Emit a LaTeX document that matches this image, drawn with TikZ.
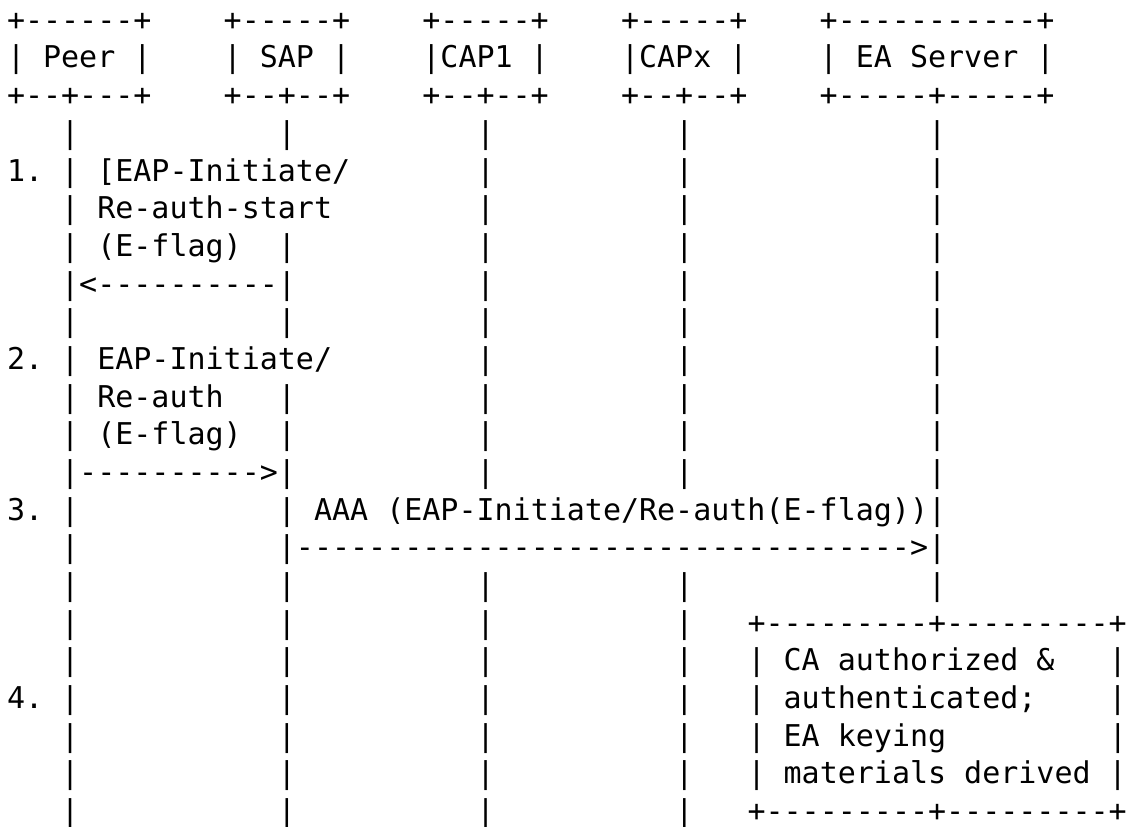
\documentclass[tikz,border=0pt]{standalone}
\usepackage{fontspec}
\setmonofont{DejaVu Sans Mono}
\newcommand\sk[1]{\kern#1\fontcharwd\font`M\relax}
\tikzset{
  asciirow/.style={anchor=base west, inner sep=0pt, outer sep=0pt,
    font=\ttfamily\fontsize{15}{18}\selectfont, text=black}
}
\begin{document}
\begin{tikzpicture}[x=1pt,y=1pt]
\useasboundingbox (0,0) rectangle (564,-413);
\def\rx{3.5}
\newcommand\rowy[1]{-15.15-18.84*#1}
% lifeline-only row body
\newcommand\lifes{\sk{3}|\sk{11}|\sk{10}|\sk{10}|\sk{13}|}
\node[asciirow] (r0)  at (\rx,{\rowy{0}})  {+------+\sk{4}+-----+\sk{4}+-----+\sk{4}+-----+\sk{4}+-----------+};
\node[asciirow] (r1)  at (\rx,{\rowy{1}})  {|\sk{1}Peer\sk{1}|\sk{4}|\sk{1}SAP\sk{1}|\sk{4}|CAP1\sk{1}|\sk{4}|CAPx\sk{1}|\sk{4}|\sk{1}EA\sk{1}Server\sk{1}|};
\node[asciirow] (r2)  at (\rx,{\rowy{2}})  {+--+---+\sk{4}+--+--+\sk{4}+--+--+\sk{4}+--+--+\sk{4}+-----+-----+};
\node[asciirow] (r3)  at (\rx,{\rowy{3}})  {\lifes};
\node[asciirow] (r4)  at (\rx,{\rowy{4}})  {1.\sk{1}|\sk{1}[EAP-Initiate/\sk{7}|\sk{10}|\sk{13}|};
\node[asciirow] (r5)  at (\rx,{\rowy{5}})  {\sk{3}|\sk{1}Re-auth-start\sk{8}|\sk{10}|\sk{13}|};
\node[asciirow] (r6)  at (\rx,{\rowy{6}})  {\sk{3}|\sk{1}(E-flag)\sk{2}|\sk{10}|\sk{10}|\sk{13}|};
\node[asciirow] (r7)  at (\rx,{\rowy{7}})  {\sk{3}|<----------|\sk{10}|\sk{10}|\sk{13}|};
\node[asciirow] (r8)  at (\rx,{\rowy{8}})  {\lifes};
\node[asciirow] (r9)  at (\rx,{\rowy{9}})  {2.\sk{1}|\sk{1}EAP-Initiate/\sk{8}|\sk{10}|\sk{13}|};
\node[asciirow] (r10) at (\rx,{\rowy{10}}) {\sk{3}|\sk{1}Re-auth\sk{3}|\sk{10}|\sk{10}|\sk{13}|};
\node[asciirow] (r11) at (\rx,{\rowy{11}}) {\sk{3}|\sk{1}(E-flag)\sk{2}|\sk{10}|\sk{10}|\sk{13}|};
\node[asciirow] (r12) at (\rx,{\rowy{12}}) {\sk{3}|---------->|\sk{10}|\sk{10}|\sk{13}|};
\node[asciirow] (r13) at (\rx,{\rowy{13}}) {3.\sk{1}|\sk{11}|\sk{1}AAA\sk{1}(EAP-Initiate/Re-auth(E-flag))|};
\node[asciirow] (r14) at (\rx,{\rowy{14}}) {\sk{3}|\sk{11}|---------------------------------->|};
\node[asciirow] (r15) at (\rx,{\rowy{15}}) {\lifes};
\node[asciirow] (r16) at (\rx,{\rowy{16}}) {\sk{3}|\sk{11}|\sk{10}|\sk{10}|\sk{3}+---------+---------+};
\node[asciirow] (r17) at (\rx,{\rowy{17}}) {\sk{3}|\sk{11}|\sk{10}|\sk{10}|\sk{3}|\sk{1}CA\sk{1}authorized\sk{1}\&\sk{3}|};
\node[asciirow] (r18) at (\rx,{\rowy{18}}) {4.\sk{1}|\sk{11}|\sk{10}|\sk{10}|\sk{3}|\sk{1}authenticated;\sk{4}|};
\node[asciirow] (r19) at (\rx,{\rowy{19}}) {\sk{3}|\sk{11}|\sk{10}|\sk{10}|\sk{3}|\sk{1}EA\sk{1}keying\sk{9}|};
\node[asciirow] (r20) at (\rx,{\rowy{20}}) {\sk{3}|\sk{11}|\sk{10}|\sk{10}|\sk{3}|\sk{1}materials\sk{1}derived\sk{1}|};
\node[asciirow] (r21) at (\rx,{\rowy{21}}) {\sk{3}|\sk{11}|\sk{10}|\sk{10}|\sk{3}+---------+---------+};
\end{tikzpicture}
\end{document}
